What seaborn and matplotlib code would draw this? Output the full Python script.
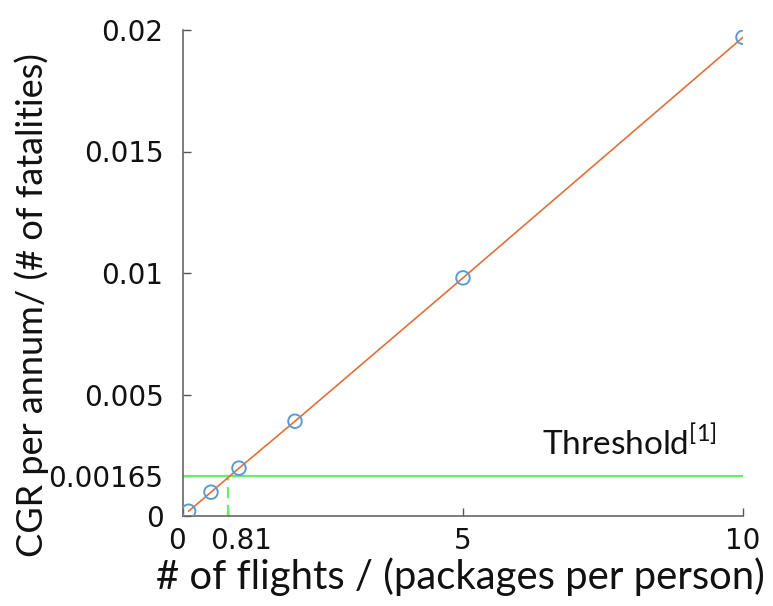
import matplotlib
matplotlib.use("Agg")
import matplotlib.pyplot as plt
import matplotlib.transforms as mtransforms
import seaborn as sns
import pandas as pd

flights = [0.1, 0.5, 1, 2, 5, 10]
cgr = [0.000197, 0.00098, 0.00197, 0.0039, 0.0098, 0.0197]
threshold = 0.00165
threshold_x = 0.81
xticks = [0, 0.81, 5, 10]
xticklabels = ["0", "0.81", "5", "10"]
yticks = [0, 0.00165, 0.005, 0.01, 0.015, 0.02]
yticklabels = ["0", "0.00165", "0.005", "0.01", "0.015", "0.02"]

df = pd.DataFrame({"flights": flights, "cgr": cgr})

sns.set_theme(style="ticks")
plt.rcParams["font.family"] = ["DejaVu Sans"]

fig = plt.figure(figsize=(7.73, 6.06), dpi=100)
ax = fig.add_axes([183/773, 1-516/606, (743-183)/773, (516-30)/606])

sns.lineplot(data=df, x="flights", y="cgr", ax=ax, color="#E0703A", linewidth=1.2)
sns.scatterplot(data=df, x="flights", y="cgr", ax=ax, marker="o", s=95,
                facecolor="none", edgecolor="#5A9BD3", linewidth=1.4, zorder=4)

ax.axhline(threshold, color="#66EE66", linewidth=1.6, zorder=1)
ax.plot([threshold_x, threshold_x], [0, threshold], color="#66EE66", linewidth=1.6,
        linestyle=(0, (5, 3)), zorder=1)

ax.text(6.41, 0.0025, "Threshold$^{\\mathregular{[1]}}$", fontsize=24,
        family="Lato", color="#111111")

ax.set_xlim(0, 10)
ax.set_ylim(0, 0.02)
ax.set_xticks(xticks)
ax.set_xticklabels(xticklabels, family="DejaVu Sans", fontsize=20)
ax.set_yticks(yticks)
ax.set_yticklabels(yticklabels, family="DejaVu Sans", fontsize=20)
ax.tick_params(direction="in", length=6, width=1, color="#555555", labelcolor="#111111")
ax.tick_params(axis="y", pad=14)
ax.tick_params(axis="x", pad=8)

# small horizontal nudges of the first x tick labels, as in the reference
nudges = {0: -6, 1: 13}
for i, lab in enumerate(ax.get_xticklabels()):
    if i in nudges:
        lab.set_transform(lab.get_transform() +
                          mtransforms.ScaledTranslation(nudges[i] / 100, 0, fig.dpi_scale_trans))

for side in ["top", "right"]:
    ax.spines[side].set_visible(False)
for side in ["left", "bottom"]:
    ax.spines[side].set_color("#666666")
    ax.spines[side].set_linewidth(1.2)

ax.set_xlabel("# of flights / (packages per person)", family="Lato", fontsize=28.8,
              color="#111111")
ax.set_ylabel("CGR per annum/ (# of fatalities)", family="Lato", fontsize=26,
              color="#111111")
ax.xaxis.set_label_coords(0.495, -0.085)
ax.yaxis.set_label_coords(-0.24, 0.434)

fig.savefig("out.png", dpi=100)
